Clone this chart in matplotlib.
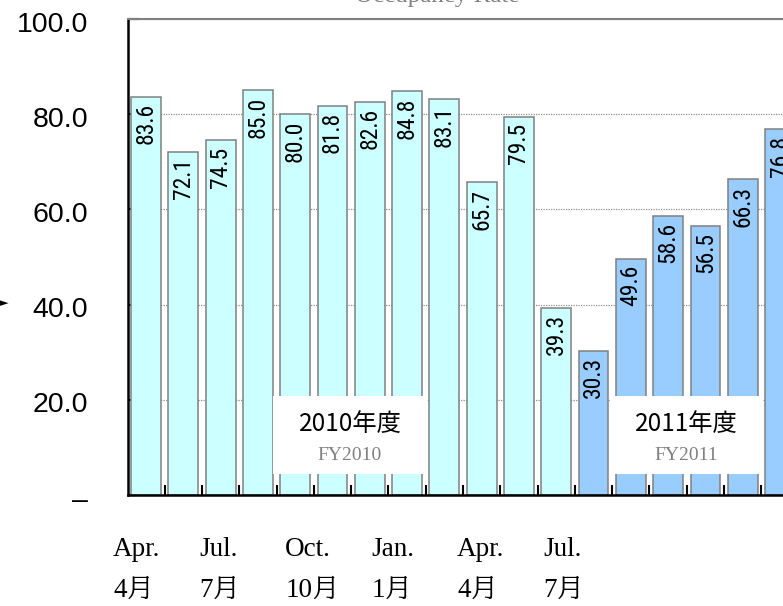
import matplotlib
matplotlib.use("Agg")
import matplotlib.pyplot as plt
from matplotlib.patches import Rectangle
from matplotlib.transforms import ScaledTranslation
import numpy as np

# ---- data ----
fy2010 = [83.6, 72.1, 74.5, 85.0, 80.0, 81.8, 82.6, 84.8, 83.1, 65.7, 79.5, 39.3]
fy2011 = [30.3, 49.6, 58.6, 56.5, 66.3, 76.8]
months_en = ['Apr.', 'Jul.', 'Oct.', 'Jan.', 'Apr.', 'Jul.']
months_ja = ['4月', '7月', '10月', '1月', '4月', '7月']
yticks = [0, 20, 40, 60, 80, 100]
ytick_labels = ['–', '20.0', '40.0', '60.0', '80.0', '100.0']
fy_ja = ['2010年度', '2011年度']
fy_en = ['FY2010', 'FY2011']
title = 'Occupancy Rate'

W, H = 783, 606
fig = plt.figure(figsize=(W / 100, H / 100), dpi=100)
ax = fig.add_axes([128 / W, (H - 495) / H, (W - 128) / W, (495 - 19) / H])

c2010 = '#CCFFFF'
c2011 = '#99CCFF'
edge = '#808080'

x10 = np.arange(len(fy2010))
x11 = np.arange(len(fy2011)) + len(fy2010)
ax.bar(x10, fy2010, width=0.8, color=c2010, edgecolor=edge, linewidth=1.1, zorder=2)
ax.bar(x11, fy2011, width=0.8, color=c2011, edgecolor=edge, linewidth=1.1, zorder=2)

for xs, vals in ((x10, fy2010), (x11, fy2011)):
    for x, v in zip(xs, vals):
        ax.annotate(f'{v:.1f}', (x, v), xytext=(0, -4.5), textcoords='offset points',
                    rotation=90, ha='center', va='top', fontsize=17,
                    family=['Roboto Condensed', 'DejaVu Sans'], color='black', zorder=3,
                    annotation_clip=False)

# y axis
ax.set_yticks(yticks)
ax.set_yticklabels(ytick_labels, family=['Liberation Sans', 'DejaVu Sans'], fontsize=20.5)
ax.tick_params(axis='y', direction='in', length=7.5, width=1.5, color='black', pad=28.5)
shift = ScaledTranslation(0, -2.5 / 100, fig.dpi_scale_trans)
for lab in ax.get_yticklabels():
    lab.set_transform(lab.get_transform() + shift)
ax.yaxis.grid(True, linestyle=(0, (1, 1)), color='#909090', linewidth=0.9)
ax.set_axisbelow(True)

# x axis ticks at category boundaries
ax.set_xticks([])
ax.set_xticks(np.arange(len(fy2010) + len(fy2011)) + 0.5, minor=True)
ax.tick_params(axis='x', which='minor', direction='in', length=7.5, width=1.5, color='black')

ax.set_xlim(-0.483, 17.08)
ax.set_ylim(0, 100)

for s in ('left', 'bottom'):
    ax.spines[s].set_linewidth(1.8)
    ax.spines[s].set_color('black')
ax.spines['right'].set_visible(False)
ax.spines['top'].set_color('#808080')
ax.spines['top'].set_linewidth(1.5)

# fiscal-year boxes
boxes = [(3.405, 7.53), (12.44, 16.54)]
for (x0, x1), ja, en in zip(boxes, fy_ja, fy_en):
    ax.add_patch(Rectangle((x0, 4.4), x1 - x0, 16.4, facecolor='white', edgecolor='none', zorder=4))
    xc = (x0 + x1) / 2
    ax.text(xc, 15.0, ja, ha='center', va='center', fontsize=17.5,
            family=['Noto Sans CJK JP', 'DejaVu Sans'], color='black', zorder=5)
    ax.text(xc, 8.4, en, ha='center', va='center', fontsize=14,
            family=['Liberation Serif', 'DejaVu Serif'], color='#808080', zorder=5)

# month labels below axis
serif = ['Liberation Serif', 'BIZ UDPMincho', 'Noto Serif CJK JP', 'DejaVu Serif']
x_start, x_step = -0.88, 2.306
for i, (en, ja) in enumerate(zip(months_en, months_ja)):
    xl = x_start + i * x_step
    ax.text(xl, (495 - 550) / 4.76, en, ha='left', va='center', fontsize=19.5, family=serif,
            color='black', clip_on=False)
    ax.text(xl, (495 - 590) / 4.76, ja, ha='left', va='center', fontsize=19.5, family=serif,
            color='black', clip_on=False)

# partially visible title and axis marker
fig.text(437 / W, 1 - 2 / H, title, ha='center', va='baseline', fontsize=18,
         family=['Liberation Serif', 'DejaVu Serif'], color='#808080')
fig.text(0.0, 1 - 303 / H, '►', ha='left', va='center', fontsize=8,
         family=['DejaVu Sans'], color='black')

fig.savefig('out.png', dpi=100)
